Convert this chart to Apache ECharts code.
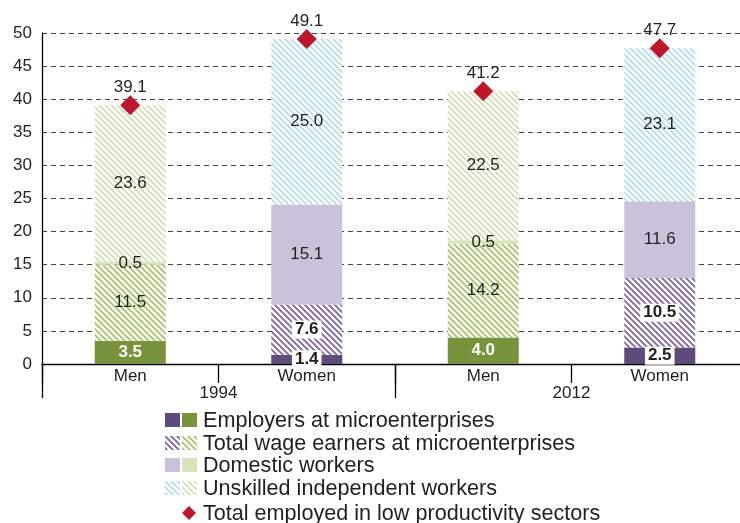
<!DOCTYPE html>
<html>
<head>
<meta charset="utf-8">
<script src="https://cdn.jsdelivr.net/npm/echarts@6/dist/echarts.min.js"></script>
<style>
  html, body { margin: 0; padding: 0; background: #fff; }
  #chart { width: 740px; height: 523px; }
</style>
</head>
<body>
<div id="chart"></div>
<script>
// data
const categories = ['Men', 'Women', 'Men', 'Women']
const years = ['1994', '2012']
const employers = [3.5, 1.4, 4.0, 2.5]
const wageEarners = [11.5, 7.6, 14.2, 10.5]
const domestic = [0.5, 15.1, 0.5, 11.6]
const unskilled = [23.6, 25.0, 22.5, 23.1]
const totals = [39.1, 49.1, 41.2, 47.7]

// hatch pattern, lines running top-left to bottom-right
const hatch = (color, lw) => {
  const s = 6
  const c = document.createElement('canvas')
  c.width = s
  c.height = s
  const ctx = c.getContext('2d')
  ctx.fillStyle = '#fff'
  ctx.fillRect(0, 0, s, s)
  ctx.strokeStyle = color
  ctx.lineWidth = lw
  ctx.beginPath()
  ctx.moveTo(-1, -1); ctx.lineTo(s + 1, s + 1)
  ctx.moveTo(-1, s - 1); ctx.lineTo(1, s + 1)
  ctx.moveTo(s - 1, -1); ctx.lineTo(s + 1, 1)
  ctx.stroke()
  return { image: c, repeat: 'repeat' }
}

const isMen = i => i % 2 === 0
const colors = {
  employers: ['#77933c', '#604a7b'],
  wage: [hatch('#a3c264', 1.6), hatch('#8064a2', 1.8)],
  domestic: ['#d7e4bd', '#ccc1da'],
  unskilled: [hatch('#cbdca8', 1.5), hatch('#a9d9e8', 1.5)]
}
const pick = (key, i) => colors[key][isMen(i) ? 0 : 1]

const textColor = '#231f20'
const font = 'Liberation Sans, Arial, sans-serif'
const fmt = p => p.value.toFixed(1)

const boxedLabel = {
  show: true,
  position: 'inside',
  color: textColor,
  fontWeight: 'bold',
  fontSize: 17,
  backgroundColor: '#fff',
  padding: [1, 3, 0, 3],
  formatter: fmt
}
const plainLabel = {
  show: true,
  position: 'inside',
  color: textColor,
  fontSize: 17,
  formatter: fmt
}

const stackSeries = (name, values, key, labelFn) => ({
  name,
  type: 'bar',
  stack: 'total',
  barWidth: 71,
  data: values.map((v, i) => ({
    value: v,
    itemStyle: { color: pick(key, i) },
    label: labelFn(i)
  })),
  label: plainLabel
})

const chart = echarts.init(document.getElementById('chart'))

// legend drawn by hand: two swatches per row (women / men)
const legendRows = [
  { text: 'Employers at microenterprises', swatch: [colors.employers[1], colors.employers[0]] },
  { text: 'Total wage earners at microenterprises', swatch: [colors.wage[1], colors.wage[0]] },
  { text: 'Domestic workers', swatch: [colors.domestic[1], colors.domestic[0]] },
  { text: 'Unskilled independent workers', swatch: [colors.unskilled[1], colors.unskilled[0]] }
]
const legendY = [420, 443, 465, 488]
const graphics = []
legendRows.forEach((r, k) => {
  graphics.push({ type: 'rect', x: 165, y: legendY[k] - 7, shape: { width: 15, height: 14 }, style: { fill: r.swatch[0] } })
  graphics.push({ type: 'rect', x: 182, y: legendY[k] - 7, shape: { width: 15, height: 14 }, style: { fill: r.swatch[1] } })
  graphics.push({ type: 'text', x: 203, y: legendY[k] + 1, style: { text: r.text, fill: textColor, font: '21.6px ' + font, verticalAlign: 'middle' } })
})
graphics.push({ type: 'polygon', shape: { points: [[189, 506], [196, 513], [189, 520], [182, 513]] }, style: { fill: '#c0162c' } })
graphics.push({ type: 'text', x: 203, y: 514, style: { text: 'Total employed in low productivity sectors', fill: textColor, font: '21.6px ' + font, verticalAlign: 'middle' } })

const option = {
  animation: false,
  textStyle: { fontFamily: font },
  grid: { left: 42, top: 33, width: 706, height: 331, outerBoundsMode: 'none', containLabel: false },
  xAxis: [
    {
      type: 'category',
      data: categories,
      axisLine: { lineStyle: { color: '#000', width: 1.3 } },
      axisTick: { show: true, interval: 0, length: 19, lineStyle: { color: '#000', width: 1.3 } },
      axisLabel: { color: textColor, fontSize: 17, margin: 4 }
    },
    {
      type: 'category',
      data: years,
      position: 'bottom',
      axisLine: { show: false },
      axisTick: { show: true, interval: 0, length: 34, lineStyle: { color: '#000', width: 1.3 } },
      axisLabel: { color: textColor, fontSize: 17, margin: 21 }
    }
  ],
  yAxis: {
    type: 'value',
    min: 0,
    max: 50,
    interval: 5,
    axisLine: { show: true, lineStyle: { color: '#000', width: 1.3 } },
    axisTick: { show: false },
    axisLabel: { color: textColor, fontSize: 17, margin: 10 },
    splitLine: { lineStyle: { color: '#444', type: [5, 4], width: 1 } }
  },
  graphic: graphics,
  series: [
    stackSeries('Employers at microenterprises', employers, 'employers', i => isMen(i)
      ? { show: true, position: 'inside', color: '#fff', fontWeight: 'bold', fontSize: 17, formatter: fmt }
      : boxedLabel),
    stackSeries('Total wage earners at microenterprises', wageEarners, 'wage', i => isMen(i) ? plainLabel : boxedLabel),
    stackSeries('Domestic workers', domestic, 'domestic', () => plainLabel),
    stackSeries('Unskilled independent workers', unskilled, 'unskilled', () => plainLabel),
    {
      name: 'Total employed in low productivity sectors',
      type: 'scatter',
      symbol: 'diamond',
      symbolSize: [20, 20],
      itemStyle: { color: '#c0162c', opacity: 1 },
      label: { show: true, position: 'top', distance: -1, color: textColor, fontSize: 17, formatter: fmt },
      data: totals,
      z: 5
    }
  ]
}

chart.setOption(option)
</script>
</body>
</html>
